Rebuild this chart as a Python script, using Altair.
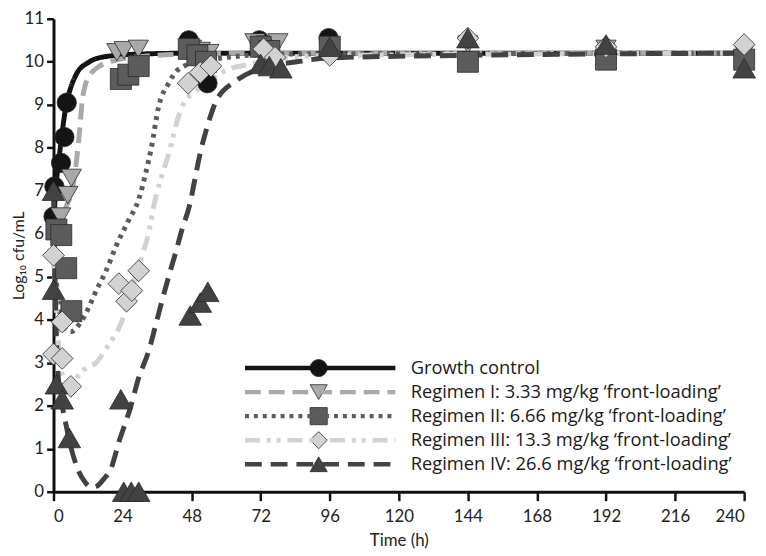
import altair as alt
import pandas as pd

names = [
    "Growth control",
    "Regimen I: 3.33 mg/kg \u2018front-loading\u2019",
    "Regimen II: 6.66 mg/kg \u2018front-loading\u2019",
    "Regimen III: 13.3 mg/kg \u2018front-loading\u2019",
    "Regimen IV: 26.6 mg/kg \u2018front-loading\u2019",
]
colors = ["#141414", "#a9a9a9", "#5c5c5c", "#d2d2d2", "#424242"]
dashes = [[1, 0], [16, 8], [4, 5], [15, 7, 4, 6, 4, 7], [17, 9]]
shapes = ["circle", "triangle-down", "square", "diamond", "triangle-up"]
marker_sizes = [380, 520, 330, 480, 520]

# fitted curves (time h, log10 cfu/mL)
curve_gc_t = [0, 1, 2, 3, 4.4, 6, 8, 12, 18, 30, 48, 240]
curve_gc_v = [6.2, 7.2, 7.8, 8.35, 9.0, 9.4, 9.72, 9.98, 10.12, 10.18, 10.2, 10.2]
curve_r1_t = [0, 2, 4.5, 6.6, 7.9, 9, 10, 11, 12.4, 16, 21.7, 30, 48, 72, 240]
curve_r1_v = [6.0, 6.27, 6.65, 7.05, 7.65, 8.35, 9.1, 9.45, 9.66, 9.9, 10.04, 10.12, 10.18, 10.2, 10.2]
curve_r2_t = [0, 1, 2, 4, 6, 9, 12, 15, 18, 22, 26, 29.6, 32, 34, 36.5, 40, 43, 50, 60, 80, 240]
curve_r2_v = [6.1, 4.9, 4.2, 3.8, 3.72, 3.9, 4.25, 4.7, 5.1, 5.75, 6.3, 6.8, 7.4, 8.0, 8.95, 9.5, 9.8, 10.0, 10.1, 10.18, 10.2]
curve_r3_t = [0, 1, 2, 3.5, 5, 7, 9, 12, 14.8, 17.5, 20, 22.7, 26, 29, 31.3, 33, 34.7, 37.5, 40, 43.3, 45, 50, 55, 60.5, 67.4, 80, 100, 240]
curve_r3_v = [5.5, 4.2, 3.2, 2.6, 2.4, 2.5, 2.74, 2.9, 3.0, 3.25, 3.5, 3.8, 4.4, 5.1, 5.6, 6.0, 6.6, 7.33, 7.85, 8.7, 9.0, 9.35, 9.6, 9.82, 9.93, 10.1, 10.15, 10.2]
curve_r4_t = [0, 0.5, 1, 2, 3, 4, 6, 8, 11, 13, 15, 17.5, 20, 22.7, 26.8, 29.6, 33, 35.4, 37.5, 40.3, 42.6, 44.4, 47.5, 49.5, 51.2, 53.6, 56.4, 63.3, 70.8, 84.6, 96, 144, 240]
curve_r4_v = [7.0, 5.0, 3.6, 2.4, 2.0, 1.67, 1.05, 0.6, 0.22, 0.1, 0.13, 0.3, 0.54, 1.15, 1.97, 2.65, 3.26, 3.85, 4.39, 5.07, 5.6, 6.04, 6.72, 7.4, 7.94, 8.53, 9.07, 9.55, 9.82, 10.0, 10.09, 10.15, 10.2]

# observed data points
pts_gc_t = [0, 0.3, 2.6, 3.8, 4.6, 47, 53.5, 71.5, 95.6]
pts_gc_v = [6.4, 7.1, 7.65, 8.25, 9.05, 10.5, 9.5, 10.5, 10.55]
pts_r1_t = [2.5, 5.0, 6.2, 22, 24.5, 29.5, 48, 51, 54, 70, 74, 78, 96, 144, 192, 240]
pts_r1_v = [6.4, 6.9, 7.3, 10.22, 10.27, 10.3, 10.3, 10.25, 10.2, 10.45, 10.4, 10.45, 10.2, 10.4, 10.3, 10.2]
pts_r2_t = [1, 2.7, 4.4, 6.2, 23.4, 26, 29.6, 47, 50, 53, 72, 75, 96, 144, 192, 240]
pts_r2_v = [6.1, 5.97, 5.2, 4.2, 9.6, 9.7, 9.9, 10.3, 10.15, 10.0, 10.35, 10.25, 10.35, 10.0, 10.05, 10.05]
pts_r3_t = [0, 0, 3, 3, 6, 22.7, 25.4, 27.2, 29.6, 46.8, 51, 54.7, 73, 77, 96, 144, 192, 240]
pts_r3_v = [5.5, 3.2, 3.95, 3.1, 2.45, 4.84, 4.43, 4.68, 5.14, 9.5, 9.75, 9.9, 10.3, 10.1, 10.15, 10.55, 10.35, 10.4]
pts_r4_t = [0, 0, 1, 3, 5.5, 23.4, 24.4, 27, 29.6, 47.5, 51, 53.6, 72, 75, 79, 96, 144, 192, 240]
pts_r4_v = [7.0, 4.7, 2.5, 2.15, 1.25, 2.15, 0, 0, 0, 4.1, 4.4, 4.65, 9.95, 9.9, 9.85, 10.35, 10.55, 10.4, 9.85]

x_ticks = list(range(0, 241, 24))
y_ticks = list(range(0, 12))

curves = [(curve_gc_t, curve_gc_v), (curve_r1_t, curve_r1_v), (curve_r2_t, curve_r2_v),
          (curve_r3_t, curve_r3_v), (curve_r4_t, curve_r4_v)]
points = [(pts_gc_t, pts_gc_v), (pts_r1_t, pts_r1_v), (pts_r2_t, pts_r2_v),
          (pts_r3_t, pts_r3_v), (pts_r4_t, pts_r4_v)]

curve_rows = []
for i, (ts, vs) in enumerate(curves):
    for t, v in zip(ts, vs):
        curve_rows.append({"t": t, "v": v, "series": names[i], "order": i})
pt_rows = []
for i, (ts, vs) in enumerate(points):
    for t, v in zip(ts, vs):
        pt_rows.append({"t": t, "v": v, "grp": names[i], "order": i})

curve_df = pd.DataFrame(curve_rows)
pt_df = pd.DataFrame(pt_rows)
legend_df = pd.DataFrame({"grp": names, "order": list(range(len(names)))})

FONT = "Lato"
LEG_FONT = "Open Sans"

# legend layout (pixels inside the plot area)
LEG_X, LEG_Y, ROW_H, ROW_PAD = 191, 343, 20, 4.3
LINE_LEN = 152

xscale = alt.Scale(domain=[0, 240], nice=False, zero=False)
yscale = alt.Scale(domain=[0, 11], nice=False)
xenc = alt.X("t:Q", scale=xscale,
             axis=alt.Axis(values=x_ticks, title="Time (h)", grid=False, tickSize=9,
                           labelPadding=8, titlePadding=8))
yenc = alt.Y("v:Q", scale=yscale,
             axis=alt.Axis(values=y_ticks, title="Log\u2081\u2080 cfu/mL", grid=False,
                           titlePadding=-2, titleFontSize=16))

lines = alt.Chart(curve_df).mark_line(strokeWidth=5, interpolate="monotone").encode(
    x=xenc, y=yenc,
    color=alt.Color("series:N", scale=alt.Scale(domain=names, range=colors),
                    legend=alt.Legend(orient="none", legendX=LEG_X, legendY=LEG_Y, title=None,
                                      symbolType="stroke", symbolSize=LINE_LEN * LINE_LEN,
                                      symbolStrokeWidth=4.5, clipHeight=ROW_H, rowPadding=ROW_PAD,
                                      labelFontSize=18.5, labelFont=LEG_FONT, labelOffset=13,
                                      labelColor="#1a1a1a", labelLimit=400)),
    strokeDash=alt.StrokeDash("series:N", scale=alt.Scale(domain=names, range=dashes)),
    detail="series:N",
)

marks = alt.Chart(pt_df).mark_point(filled=True, opacity=1, stroke="#2a2a2a", strokeWidth=0.8).encode(
    x=alt.X("t:Q", scale=xscale),
    y=alt.Y("v:Q", scale=yscale),
    fill=alt.Fill("grp:N", sort=names, scale=alt.Scale(range=colors), legend=None),
    shape=alt.Shape("grp:N", sort=names, scale=alt.Scale(range=shapes), legend=None),
    size=alt.Size("grp:N", sort=names, scale=alt.Scale(range=marker_sizes), legend=None),
    order=alt.Order("order:Q"),
)

first_row = LEG_Y + ROW_H / 2
last_row = first_row + 4 * (ROW_H + ROW_PAD)
legend_marks = alt.Chart(legend_df).mark_point(
    filled=True, opacity=1, stroke="#2a2a2a", strokeWidth=0.8, size=300
).encode(
    x=alt.value(LEG_X + LINE_LEN / 2 + 1),
    y=alt.Y("grp:N", sort=names, axis=None,
            scale=alt.Scale(type="point", range=[first_row, last_row], padding=0)),
    fill=alt.Fill("grp:N", sort=names, legend=None),
    shape=alt.Shape("grp:N", sort=names, legend=None),
)

plot = alt.layer(lines, marks)

chart = alt.layer(plot, legend_marks).resolve_scale(y="independent").properties(
    width=698, height=478,
    autosize=alt.AutoSizeParams(type="none"),
    padding={"left": 46, "top": 8, "right": 14, "bottom": 58},
).configure_view(stroke=None).configure_axis(
    domainColor="#111", domainWidth=3, tickColor="#111", tickWidth=2.5, tickSize=7,
    labelFont=FONT, labelFontSize=17, labelColor="#222", labelPadding=3,
    titleFont=FONT, titleFontSize=17, titleFontWeight="normal", titleColor="#222",
)

chart.save("out.html", embed_options={"renderer": "svg", "actions": False})
